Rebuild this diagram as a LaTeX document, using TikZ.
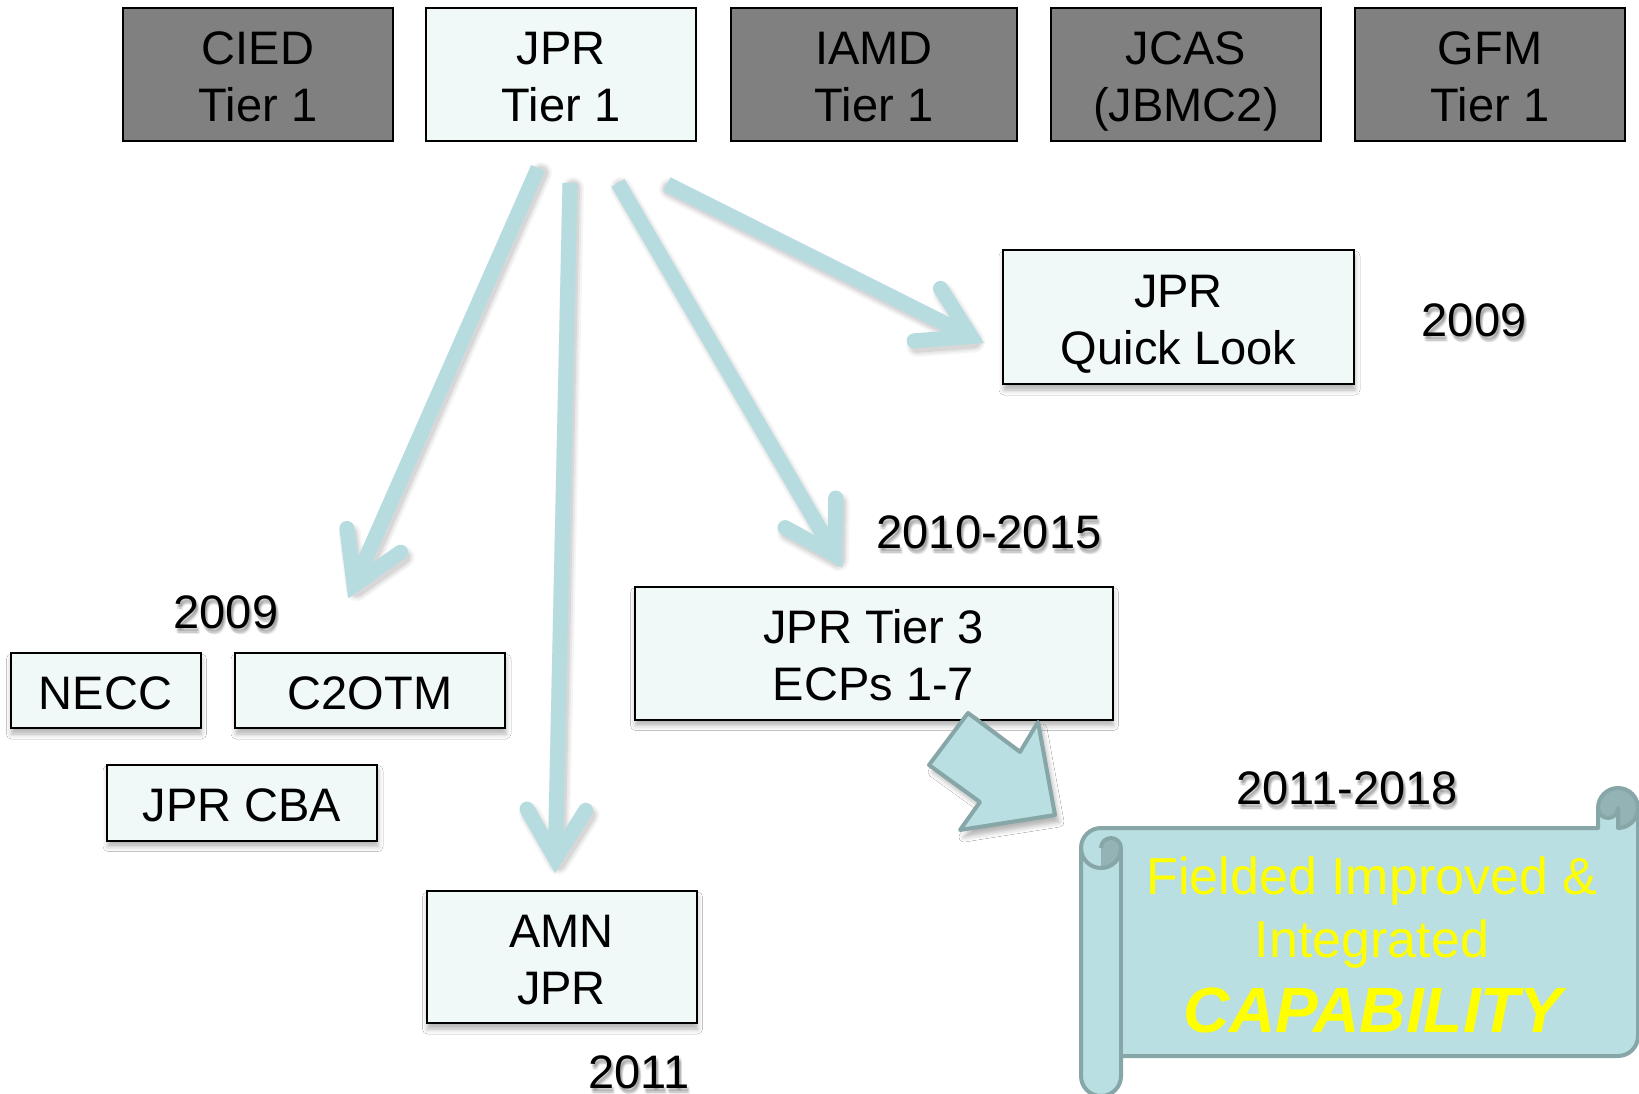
\documentclass[tikz,border=0pt]{standalone}
\usepackage{fontspec}
\setmainfont{Liberation Sans}
\usetikzlibrary{calc,shadows.blur}
\definecolor{boxgray}{HTML}{808080}
\definecolor{boxlight}{HTML}{F0F8F8}
\definecolor{arrowc}{HTML}{B7DCE0}
\definecolor{scrollfill}{HTML}{B9DFE2}
\definecolor{scrolldark}{HTML}{93B3B5}
\definecolor{scrollline}{HTML}{87A6A7}
\definecolor{capyellow}{HTML}{FFFF00}
\newcommand\bxfont{\fontsize{47}{57}\selectfont}
\newcommand\bx{\rule[-10pt]{0pt}{57pt}}
\newcommand\jarrow[2]{%
  \begin{scope}[transform canvas={shift={(3pt,-5pt)}}]
    \foreach \w/\o in {22/0.04,18/0.05,14/0.07}{
      \draw[line width=\w pt, black, opacity=\o, line cap=round, line join=round]
        (#1) -- (#2) ($(#2)!57pt!31:(#1)$) -- (#2) -- ($(#2)!57pt!-31:(#1)$);
    }
  \end{scope}
  \draw[arrowline] (#1) -- (#2);
  \draw[arrowline, line cap=round, line join=miter] ($(#2)!57pt!31:(#1)$) -- (#2) -- ($(#2)!57pt!-31:(#1)$);
}
\newcommand\datelabel[3]{%
  \foreach \dx/\dy in {1/-3,3/-3,2/-5,2/-2,1/-5,3/-6}{
    \node[datelbl, opacity=0.07] at ($(#2)+(\dx,\dy)$) {#3};
  }
  \node[datelbl] (#1) at (#2) {#3};
}
\begin{document}
\begin{tikzpicture}[x=1pt,y=1pt,
  graybox/.style={draw=black, line width=2pt, fill=boxgray, inner sep=0pt, align=center, font=\bxfont},
  lightfill/.style={draw=black, line width=2pt, fill=boxlight, inner sep=0pt, align=center, font=\bxfont},
  lightbox/.style={lightfill, blur shadow={shadow xshift=1pt, shadow yshift=-6pt, shadow blur radius=5pt, shadow opacity=30}},
  arrowline/.style={draw=arrowc, line width=15pt},
  datelbl/.style={font=\bxfont, anchor=base, inner sep=0pt},
  scrolltxt/.style={anchor=base, inner sep=0pt, text=capyellow},
  scrollpart/.style={draw=scrollline, line width=4pt, line join=round}]
\useasboundingbox (0,0) rectangle (1639,-1094);
\fill[white] (0,0) rectangle (1639,-1094);

% top row
\node[graybox, minimum width=270pt, minimum height=133pt] (cied) at (258,-74.5) {\bx CIED\\\bx Tier 1};
\node[lightfill, minimum width=270pt, minimum height=133pt] (jpr1) at (561,-74.5) {\bx JPR\\\bx Tier 1};
\node[graybox, minimum width=286pt, minimum height=133pt] (iamd) at (874,-74.5) {\bx IAMD\\\bx Tier 1};
\node[graybox, minimum width=270pt, minimum height=133pt] (jcas) at (1186,-74.5) {\bx JCAS\\\bx (JBMC2)};
\node[graybox, minimum width=270pt, minimum height=133pt] (gfm) at (1490,-74.5) {\bx GFM\\\bx Tier 1};

% lower boxes
\node[lightbox, minimum width=351pt, minimum height=134pt] (ql) at (1178.5,-317) {\bx JPR\\\bx Quick Look};
\node[lightbox, minimum width=478pt, minimum height=133pt] (t3) at (873.5,-653) {\bx JPR Tier 3\\\bx ECPs 1-7};
\node[lightbox, minimum width=190pt, minimum height=75pt] (necc) at (105.5,-690.5) {\bx NECC};
\node[lightbox, minimum width=270pt, minimum height=75pt] (c2otm) at (370,-690.5) {\bx C2OTM};
\node[lightbox, minimum width=270pt, minimum height=76pt] (cba) at (242,-802.5) {\bx JPR CBA};
\node[lightbox, minimum width=270pt, minimum height=132pt] (amn) at (561.5,-957) {\bx AMN\\\bx JPR};

% date labels
\datelabel{d2009a}{226,-628}{2009}
\datelabel{d2010}{989,-548}{2010-2015}
\datelabel{d2009b}{1474,-336.5}{2009}
\datelabel{d2011a}{1347,-804}{2011-2018}
\datelabel{d2011b}{639,-1088}{2011}

% thin arrows
\coordinate (s1) at (538,-168);   \coordinate (j1) at (354,-585);
\coordinate (s2) at (570,-183);   \coordinate (j2) at (555.3,-858.5);
\coordinate (s3) at (618,-183);   \coordinate (j3) at (835,-555);
\coordinate (s4) at (667,-184);   \coordinate (j4) at (971,-336.5);
\jarrow{s1}{j1}
\jarrow{s2}{j2}
\jarrow{s3}{j3}
\jarrow{s4}{j4}

% block arrow
\draw[scrollpart, fill=scrollfill, blur shadow={shadow xshift=4pt, shadow yshift=-7pt, shadow blur radius=5pt, shadow opacity=30}]
  (968,-713) -- (1020,-752) -- (1038,-722) -- (1055,-815) -- (960,-830) -- (980,-802) -- (929,-765) -- cycle;

% scroll
\fill[scrollfill]
  (1638,-808) arc[start angle=0, end angle=-90, radius=20]
  -- (1618,-808) arc[start angle=0, end angle=-180, radius=10]
  -- (1598,-828) -- (1101,-828) arc[start angle=90, end angle=180, radius=20]
  -- (1081,-1076) arc[start angle=180, end angle=360, radius=20]
  -- (1121,-1056) -- (1618,-1056) arc[start angle=-90, end angle=0, radius=20]
  -- cycle;
\fill[scrolldark]
  (1101,-868) arc[start angle=-90, end angle=0, radius=20]
  arc[start angle=0, end angle=180, radius=10] -- cycle;
\fill[scrolldark]
  (1618,-828) arc[start angle=-90, end angle=180, radius=20]
  arc[start angle=180, end angle=360, radius=10] -- cycle;
\draw[scrollpart]
  (1081,-848) arc[start angle=180, end angle=90, radius=20]
  -- (1598,-828) -- (1598,-808) arc[start angle=180, end angle=0, radius=20]
  -- (1638,-1036) arc[start angle=0, end angle=-90, radius=20]
  -- (1121,-1056) -- (1121,-1076) arc[start angle=0, end angle=-180, radius=20]
  -- cycle;
\draw[scrollpart]
  (1598,-808) arc[start angle=180, end angle=360, radius=10] -- (1618,-828)
  arc[start angle=-90, end angle=0, radius=20];
\draw[scrollpart]
  (1081,-848) arc[start angle=180, end angle=360, radius=20]
  arc[start angle=0, end angle=180, radius=10];
\draw[scrollpart] (1121,-848) -- (1121,-1056);

\node[scrolltxt, font=\fontsize{52}{62}\selectfont] (sc1) at (1372,-894) {Fielded Improved \&};
\node[scrolltxt, font=\fontsize{52}{62}\selectfont] (sc2) at (1372,-957) {Integrated};
\node[scrolltxt, font=\fontsize{64}{76}\selectfont\bfseries\itshape] (sc3) at (1373,-1032) {CAPABILITY};
\end{tikzpicture}
\end{document}
